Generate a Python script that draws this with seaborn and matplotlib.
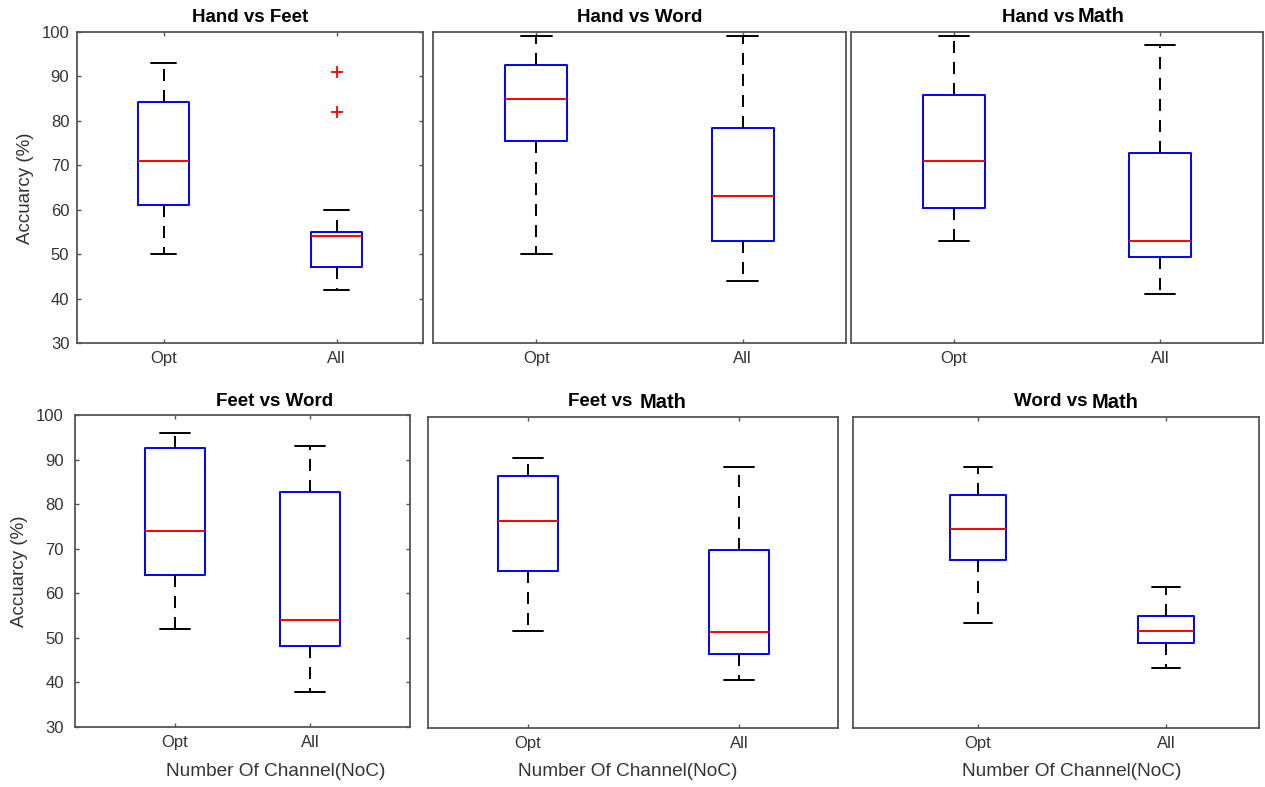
import numpy as np
import pandas as pd
import matplotlib
matplotlib.use("Agg")
import matplotlib.pyplot as plt
import seaborn as sns

# ---------------- data ----------------
categories = ["Opt", "All"]
panel_titles = ["Hand vs Feet", "Hand vs Word", "Hand vs Math",
                "Feet vs Word", "Feet vs Math", "Word vs Math"]
x_label = "Number Of Channel(NoC)"
y_label = "Accuarcy (%)"
y_ticks = [30, 40, 50, 60, 70, 80, 90, 100]

# five-number summaries: lower whisker, Q1, median, Q3, upper whisker
hand_feet_opt = [50.0, 61.0, 71.0, 84.2, 93.0]
hand_feet_all = [42.0, 47.2, 54.0, 55.0, 60.0]
hand_feet_all_outliers = [91.0, 82.0]
hand_word_opt = [50.0, 75.5, 85.0, 92.6, 99.2]
hand_word_all = [44.0, 53.0, 63.0, 78.5, 99.2]
hand_math_opt = [53.0, 60.3, 71.0, 85.8, 99.2]
hand_math_all = [41.0, 49.3, 53.0, 72.8, 97.1]
feet_word_opt = [52.0, 64.0, 74.0, 92.5, 96.0]
feet_word_all = [37.8, 48.2, 54.0, 82.8, 93.0]
feet_math_opt = [51.8, 65.3, 76.7, 86.7, 90.8]
feet_math_all = [40.7, 46.7, 51.7, 70.0, 88.7]
word_math_opt = [53.6, 67.8, 74.8, 82.4, 88.8]
word_math_all = [43.6, 49.2, 51.8, 55.2, 61.8]

panel_opt = [hand_feet_opt, hand_word_opt, hand_math_opt,
             feet_word_opt, feet_math_opt, word_math_opt]
panel_all = [hand_feet_all, hand_word_all, hand_math_all,
             feet_word_all, feet_math_all, word_math_all]
panel_outliers = [hand_feet_all_outliers, [], [], [], [], []]

# ---------------- styling / layout ----------------
sns.set_theme(style="white")
plt.rcParams["font.family"] = ["Liberation Sans", "DejaVu Sans"]
plt.rcParams["axes.edgecolor"] = "#555555"
plt.rcParams["axes.linewidth"] = 1.3

W, H = 1265, 787
fig = plt.figure(figsize=(W / 100, H / 100), dpi=100)
fig.patch.set_facecolor("white")

BLUE = "#0000ff"
RED = "#ff0000"
TXT = "#333333"
LW = 1.4

# axes boxes in pixels: left, top, right, bottom
rects = [(77, 32, 423, 343), (433, 32, 846, 343), (851, 32, 1263, 343),
         (75, 415, 410, 727), (428, 417, 838, 728), (853, 417, 1259, 728)]
xlims = [(-0.5, 1.5), (-0.5, 1.5), (-0.5, 1.5),
         (-0.74, 1.74), (-0.474, 1.469), (-0.665, 1.495)]
widths = [0.3, 0.3, 0.3, 0.45, 0.285, 0.3]
title_pos = [(250, 15), (640, 15), (1064, 15), (275, 400), (630, 400), (1076, 400)]
# split point (px) between "X vs " and the separately styled "Math"
title_split = {2: (1075, 1078), 4: (632, 640), 5: (1087, 1092)}
ylabel_pos = {0: (25, 188), 3: (20, 571)}
ytick_pad = {0: 5.5, 3: 8.0}
xlabel_pos = {3: (276, 771), 4: (628, 772), 5: (1072, 772)}

for i in range(6):
    l, t, r, b = rects[i]
    ax = fig.add_axes([l / W, 1 - b / H, (r - l) / W, (b - t) / H])
    df = pd.DataFrame({
        "NoC": [categories[0]] * len(panel_opt[i]) + [categories[1]] * len(panel_all[i]),
        "acc": panel_opt[i] + panel_all[i],
    })
    sns.boxplot(data=df, x="NoC", y="acc", order=categories, ax=ax,
                width=widths[i], whis=(0, 100), fill=False, linewidth=LW,
                showfliers=False,
                boxprops=dict(color=BLUE),
                medianprops=dict(color=RED),
                whiskerprops=dict(color="black", linestyle=(0, (6.2, 4.6))),
                capprops=dict(color="black"))
    if panel_outliers[i]:
        sns.stripplot(x=[categories[1]] * len(panel_outliers[i]), y=panel_outliers[i],
                      order=categories, jitter=False, marker="+", color=RED,
                      size=9, linewidth=1.3, ax=ax)
    ax.set_xlim(*xlims[i])
    ax.set_ylim(30, 100)
    ax.set_xlabel("")
    ax.set_ylabel("")
    ax.set_xticks([0, 1])
    ax.set_xticklabels(categories)
    ax.tick_params(axis="x", direction="in", length=3, width=1, color="#555555",
                   top=True, bottom=True, labelsize=12, labelcolor=TXT, pad=6)
    for s in ax.spines.values():
        s.set_visible(True)
        s.set_color("#555555")
        s.set_linewidth(1.3)
    if i in (0, 3):
        ax.set_yticks(y_ticks)
        ax.tick_params(axis="y", direction="in", length=3, width=1, color="#555555",
                       left=True, right=True, labelsize=12, labelcolor=TXT,
                       pad=ytick_pad[i])
        px, py = ylabel_pos[i]
        fig.text(px / W, 1 - py / H, y_label, rotation=90, ha="center", va="center",
                 fontsize=13.5, color=TXT)
    else:
        ax.set_yticks(y_ticks)
        ax.tick_params(axis="y", left=False, right=False, labelleft=False)
    tx, ty = title_pos[i]
    if i in title_split:
        head, tail = panel_titles[i].rsplit(" ", 1)
        sa, sb = title_split[i]
        fig.text(sa / W, 1 - ty / H, head, ha="right", va="center_baseline",
                 fontsize=13.5, fontweight="bold", color="black")
        fig.text(sb / W, 1 - ty / H, tail, ha="left", va="center_baseline",
                 fontsize=14.5, fontweight="heavy", color="black")
    else:
        fig.text(tx / W, 1 - ty / H, panel_titles[i], ha="center", va="center_baseline",
                 fontsize=13.5, fontweight="bold", color="black")
    if i in xlabel_pos:
        px, py = xlabel_pos[i]
        fig.text(px / W, 1 - py / H, x_label, ha="center", va="center",
                 fontsize=13.7, color=TXT)

fig.savefig("out.png", dpi=100, facecolor="white")
